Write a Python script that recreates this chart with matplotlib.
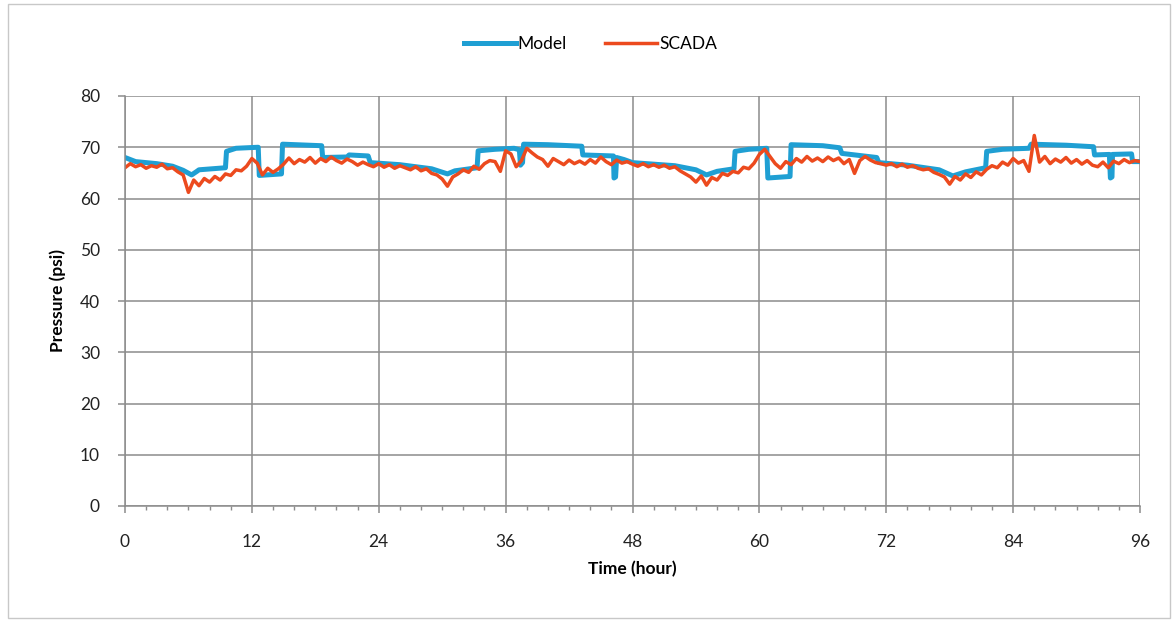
import matplotlib

matplotlib.use("Agg")

import matplotlib.pyplot as plt  # noqa: E402
from matplotlib.patches import Rectangle  # noqa: E402
from matplotlib.ticker import MultipleLocator  # noqa: E402

BLUE = "#1f9fd3"
RED = "#ec4a1e"
GRID = "#8c8c8c"

# model output: step-like pump schedule response (hour, psi)
model_hour = [
    0, 1, 3, 4.5, 5.5, 6.3, 6.8, 7, 9.5, 9.6, 10.5, 12.6, 12.7, 14.8, 14.9,
    18.6, 18.7, 21, 21.2, 23.0, 23.2, 26, 29, 30.5, 31.2, 33.3, 33.4, 35,
    36.8, 37.3, 37.4, 37.6, 37.7, 40, 43.2, 43.3, 46.2, 46.25, 46.4, 46.5,
    47.2, 48, 52, 54, 55, 56, 57.6, 57.7, 59, 60.7, 60.8, 62.9, 63.0, 66,
    67.6, 67.8, 71.1, 71.3, 74, 77, 78.3, 79.5, 81.4, 81.5, 83, 85.5, 85.7,
    89, 91.6, 91.7, 93.1, 93.2, 93.35, 93.4, 95.2, 95.3, 96,
]
model_psi = [
    68.0, 67.2, 66.8, 66.3, 65.5, 64.6, 65.3, 65.6, 66.0, 69.2, 69.8, 70.0, 64.5, 64.8, 70.6,
    70.3, 68.0, 68.1, 68.5, 68.3, 67.0, 66.6, 65.8, 64.8, 65.4, 66.0, 69.3, 69.6,
    69.8, 69.5, 66.5, 67.0, 70.6, 70.5, 70.2, 68.5, 68.3, 64.0, 64.2, 68.0,
    67.6, 67.0, 66.4, 65.6, 64.6, 65.3, 65.8, 69.2, 69.6, 69.8, 64.0, 64.3, 70.5, 70.3,
    69.9, 68.8, 68.0, 67.0, 66.5, 65.6, 64.4, 65.2, 66.0, 69.2, 69.6, 69.8, 70.6,
    70.4, 70.1, 68.5, 68.6, 64.0, 64.2, 68.6, 68.7, 67.2, 67.2,
]

# SCADA readings every half hour, 0..96 h
scada_hour = [i * 0.5 for i in range(193)]
scada_psi = [
    66.0, 66.8, 66.2, 66.6, 65.9, 66.4, 66.1, 66.7, 65.8, 66.0, 65.2, 64.6,
    61.2, 63.6, 62.5, 63.9, 63.2, 64.3, 63.6, 64.8, 64.5, 65.6, 65.4, 66.3,
    67.8, 66.9, 64.6, 65.9, 65.1, 65.8, 66.7, 67.9, 66.8, 67.6, 67.1, 68.0,
    66.9, 67.8, 67.2, 68.1, 67.4, 66.9, 67.7, 67.2, 66.5, 67.1, 66.6, 66.2,
    66.8, 66.1, 66.6, 65.9, 66.4, 66.0, 65.6, 66.2, 65.4, 65.8, 64.9, 64.6,
    63.8, 62.4, 64.2, 64.8, 65.6, 65.1, 66.3, 65.7, 66.8, 67.4, 67.2, 65.3,
    69.3, 68.7, 66.2, 67.4, 69.8, 68.9, 68.1, 67.6, 66.3, 67.8, 67.2, 66.6,
    67.5, 66.8, 67.3, 66.7, 67.6, 66.9, 68.1, 67.2, 66.6, 67.5, 66.9, 67.2,
    66.7, 66.3, 66.8, 66.2, 66.6, 66.1, 66.5, 65.9, 66.2, 65.4, 64.8, 64.2,
    63.2, 64.4, 62.6, 64.1, 63.6, 64.9, 64.5, 65.3, 65.0, 66.1, 65.8, 66.9,
    68.6, 69.6, 68.2, 66.8, 65.9, 67.2, 66.6, 67.8, 67.1, 68.2, 67.3, 67.9,
    67.2, 68.1, 67.4, 67.9, 66.8, 67.6, 64.9, 67.4, 68.2, 67.5, 67.0, 66.8,
    66.5, 66.8, 66.2, 66.7, 66.1, 66.4, 65.9, 65.6, 65.8, 65.1, 64.7, 64.2,
    62.8, 64.3, 63.6, 64.8, 64.1, 65.2, 64.6, 65.7, 66.4, 66.0, 67.1, 66.5,
    67.8, 66.9, 67.4, 65.3, 72.3, 67.1, 68.2, 66.8, 67.7, 67.1, 68.0, 66.9,
    67.6, 66.7, 67.4, 66.5, 66.2, 67.1, 66.0, 67.3, 66.8, 67.6, 67.0, 67.4,
    67.2,
]

plt.rcParams["font.family"] = ["Lato", "DejaVu Sans"]

fig = plt.figure(figsize=(11.76, 6.22), dpi=100)
ax = fig.add_axes([125 / 1176, 1 - 506 / 622, 1015 / 1176, 410 / 622])

ax.plot(model_hour, model_psi, color=BLUE, lw=3.6, label="Model", solid_joinstyle="round")
ax.plot(scada_hour, scada_psi, color=RED, lw=2.5, label="SCADA")

ax.set_xlim(0, 96)
ax.set_ylim(0, 80)
ax.xaxis.set_major_locator(MultipleLocator(12))
ax.xaxis.set_minor_locator(MultipleLocator(2))
ax.yaxis.set_major_locator(MultipleLocator(10))
ax.grid(True, which="major", color=GRID, lw=1.1)
ax.set_axisbelow(True)
for side in ["top", "right"]:
    ax.spines[side].set_visible(False)
for side in ["left", "bottom"]:
    ax.spines[side].set_color(GRID)
    ax.spines[side].set_linewidth(1.1)

ax.tick_params(axis="x", which="major", length=5, width=1.1, color=GRID,
               pad=15, labelsize=12.5, labelcolor="#222222")
ax.tick_params(axis="x", which="minor", length=3, width=1.0, color=GRID)
ax.tick_params(axis="y", which="major", length=5, width=1.1, color=GRID,
               pad=13, labelsize=12.5, labelcolor="#222222")

ax.set_xlabel("Time (hour)", fontsize=12.5, fontweight="bold", labelpad=8)
ax.set_ylabel("Pressure (psi)", fontsize=12.5, fontweight="bold", labelpad=10)

fig.legend(loc="center", bbox_to_anchor=(0.502, 1 - 44 / 622), ncol=2,
           frameon=False, fontsize=12.5, handlelength=3.0,
           handletextpad=0.1, columnspacing=2.2)

fig.add_artist(Rectangle((8 / 1176, 4 / 622), 1162 / 1176, 614 / 622,
                         transform=fig.transFigure, fill=False,
                         edgecolor="#c8c8c8", lw=1.0))

fig.savefig("out.png", dpi=100)
